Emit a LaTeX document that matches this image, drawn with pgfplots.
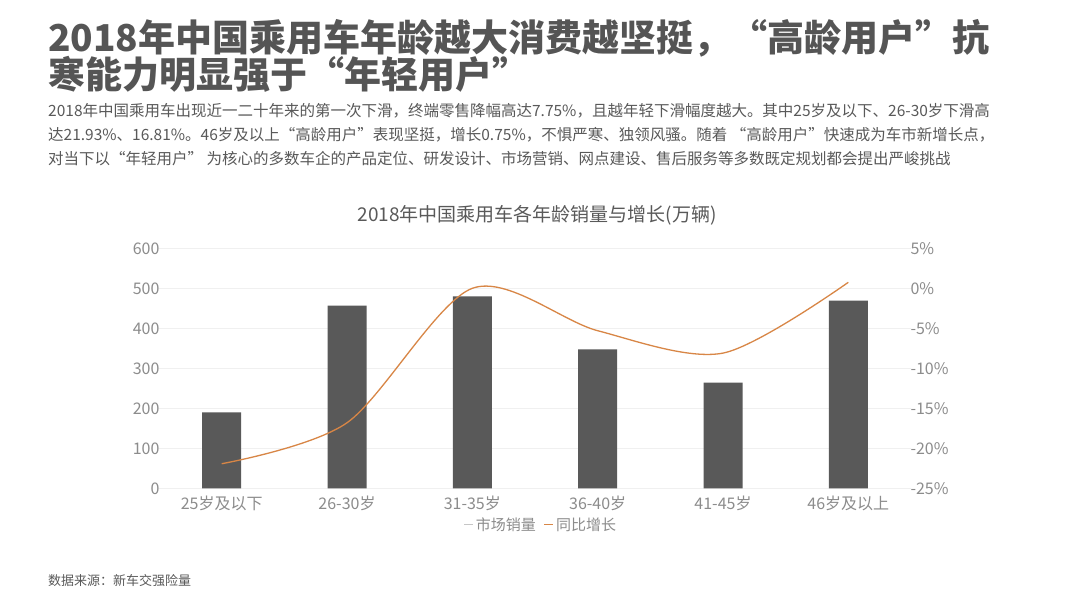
\documentclass[border=0pt]{standalone}
\usepackage{pgfplots}
\pgfplotsset{compat=1.18}
\usepackage{fontspec}
\setmainfont{Noto Sans CJK SC}
\definecolor{bargray}{RGB}{89,89,89}
\definecolor{lineorange}{RGB}{216,134,70}
\definecolor{tickc}{RGB}{140,140,140}
\definecolor{titlec}{RGB}{85,85,85}
\definecolor{subc}{RGB}{89,89,89}
\definecolor{gridc}{RGB}{240,240,240}
\begin{document}
\begin{tikzpicture}[x=1pt,y=1pt]
\path[use as bounding box] (0,0) rectangle (1080,608);
\fill[white] (0,0) rectangle (1080,608);
\node[anchor=west, inner sep=0, font=\fontsize{37}{40}\selectfont\bfseries, text=titlec] at (48,570) {2018年中国乘用车年龄越大消费越坚挺，“高龄用户”抗};
\node[anchor=west, inner sep=0, font=\fontsize{37}{40}\selectfont\bfseries, text=titlec] at (48,534) {寒能力明显强于“年轻用户”};
\node[anchor=west, inner sep=0, font=\fontsize{15.5}{18}\selectfont, text=subc] at (48,497) {2018年中国乘用车出现近一二十年来的第一次下滑，终端零售降幅高达7.75\%，且越年轻下滑幅度越大。其中25岁及以下、26-30岁下滑高};
\node[anchor=west, inner sep=0, font=\fontsize{15.5}{18}\selectfont, text=subc] at (48,473) {达21.93\%、16.81\%。46岁及以上“高龄用户”表现坚挺，增长0.75\%，不惧严寒、独领风骚。随着 “高龄用户”快速成为车市新增长点，};
\node[anchor=west, inner sep=0, font=\fontsize{15.5}{18}\selectfont, text=subc] at (48,449) {对当下以“年轻用户” 为核心的多数车企的产品定位、研发设计、市场营销、网点建设、售后服务等多数既定规划都会提出严峻挑战};
\node[font=\fontsize{19}{22}\selectfont, text=subc] at (537,393) {2018年中国乘用车各年龄销量与增长(万辆)};
\node[anchor=west, inner sep=0, font=\fontsize{13}{15}\selectfont, text=subc] at (48,27) {数据来源：新车交强险量};

\begin{axis}[
  at={(159pt,119.7pt)}, anchor=south west, scale only axis,
  width=752pt, height=240pt,
  xmin=-0.5, xmax=5.5, ymin=0, ymax=600,
  xtick={0,...,5},
  xticklabels={25岁及以下,26-30岁,31-35岁,36-40岁,41-45岁,46岁及以上},
  ytick={0,100,...,600},
  yticklabels={0,100,200,300,400,500,600},
  ymajorgrids, grid style={gridc, line width=0.8pt},
  axis line style={draw=none}, major tick length=0pt,
  ticklabel style={font=\fontsize{16}{18}\selectfont, text=tickc},
  yticklabel style={xshift=4pt},
  xticklabel style={yshift=-4pt},
  clip=false,
]
\addplot[ybar, bar width=39pt, fill=bargray, draw=none] coordinates {(0,190) (1,456.5) (2,480) (3,347.5) (4,264) (5,469)};
\end{axis}

\begin{axis}[
  at={(159pt,119.7pt)}, anchor=south west, scale only axis,
  width=752pt, height=240pt,
  xmin=-0.5, xmax=5.5, ymin=-25, ymax=5,
  xtick=\empty,
  ytick={-25,-20,...,5},
  yticklabels={-25\%,-20\%,-15\%,-10\%,-5\%,0\%,5\%},
  yticklabel pos=right,
  axis line style={draw=none}, major tick length=0pt,
  ticklabel style={font=\fontsize{16}{18}\selectfont, text=tickc},
  yticklabel style={xshift=-4pt},
  clip=false,
  legend style={at={(0.508,-0.152)}, anchor=center, legend columns=2, draw=none, fill=none,
    font=\fontsize{15}{17}\selectfont, text=tickc,
    /tikz/every even column/.append style={column sep=6pt}},
  legend image code/.code={\draw[#1] (0pt,0pt) -- (9pt,0pt);},
]
\addlegendimage{gray!45, line width=0.8pt}
\addlegendentry{市场销量}
\addplot[smooth, lineorange, line width=1.3pt] coordinates {(0,-21.93) (1,-16.81) (2,0.0) (3,-5.3) (4,-8.1) (5,0.75)};
\addlegendentry{同比增长}
\end{axis}
\end{tikzpicture}
\end{document}
